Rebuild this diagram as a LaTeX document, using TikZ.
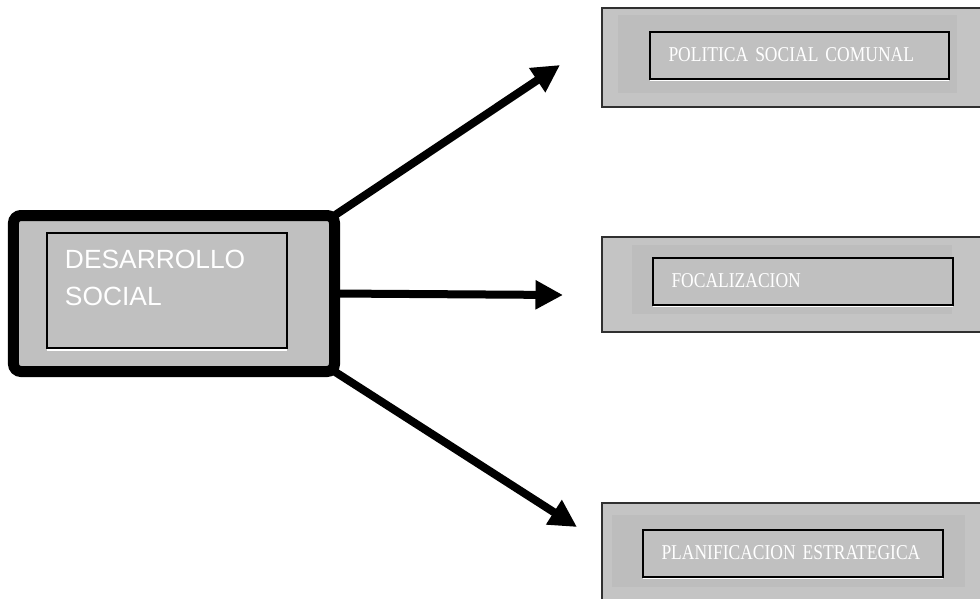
\documentclass[tikz,border=0pt]{standalone}
\usepackage{fontspec}
\usepackage{xcolor}
\usepackage{tikz}
\usetikzlibrary{positioning,arrows.meta,calc}
\newfontfamily\headfont{Liberation Sans}
\newfontfamily\itemfont[FakeStretch=0.83]{Liberation Serif}
\definecolor{panelg}{RGB}{196,196,196}
\definecolor{bandg}{RGB}{189,189,189}
\definecolor{faceg}{RGB}{192,192,192}
\definecolor{rimg}{RGB}{48,48,48}
\tikzset{
	every node/.style = { draw, outer sep=0pt },
	main/.style = { rectangle, rounded corners=1.5mm, line width=2.2mm, fill=faceg, minimum width=6.42cm, minimum height=3.12cm },
	mainin/.style = { rectangle, draw=black, line width=0.4mm, fill=faceg, minimum width=4.8cm, minimum height=2.3cm },
	maintxt/.style = { draw=none, inner sep=0pt, align=left, text=white, font=\headfont\fontsize{15}{21}\selectfont },
	panel/.style = { rectangle, draw=rimg, line width=0.3mm, fill=panelg, minimum width=7.96cm },
	band/.style = { rectangle, draw=none, fill=bandg },
	item/.style = { rectangle, draw=black, line width=0.4mm, fill=faceg, minimum height=0.94cm, inner xsep=0.37cm, align=left, text=white, font=\itemfont\fontsize{12}{14}\selectfont },
	shine/.style = { white, line width=0.25mm },
	arr/.style = { line width=1.6mm, -{Triangle[length=5.5mm,width=5.5mm]} },
}

\begin{document}
\begin{tikzpicture}[x=0.2mm,y=-0.2mm]
\useasboundingbox (0,0) rectangle (980,598);
\clip (0,0) rectangle (980,598);
\fill[white] (0,0) rectangle (980,598);

\node (dev)    [main]   at (174,293.5) {};
\node (devin)  [mainin] at (167,290.5) {};
\node (devtxt) [maintxt,anchor=base west] at ($(devin.north west)+(18,72)$) {DESARROLLO\\SOCIAL};

\node (pol)   [panel,minimum height=1.98cm] at (801,57.5) {};
\node (polb)  [band,minimum width=6.78cm,minimum height=1.56cm] at (787.5,54) {};
\node (polin) [item,minimum width=5.98cm,text width=5.24cm] at (799.5,55) {POLITICA SOCIAL COMUNAL};

\node (foc)   [panel,minimum height=1.9cm] at (801,284.5) {};
\node (focb)  [band,minimum width=6.4cm,minimum height=1.38cm] at (792,279.5) {};
\node (focin) [item,minimum width=6cm,text width=5.26cm] at (803,281) {FOCALIZACION};

\node (pla)   [panel,minimum height=2.34cm] at (801,561.5) {};
\node (plab)  [band,minimum width=7.06cm,minimum height=1.44cm] at (788.5,551) {};
\node (plain) [item,minimum width=6cm,text width=5.26cm] at (793,553) {PLANIFICACION ESTRATEGICA};

% light edge under the inner boxes
\foreach \n in {devin,polin,focin,plain}
	\draw[shine] ($(\n.south west)+(0,2)$) -- ($(\n.south east)+(0,2)$);

\coordinate (polt) at (560,65);
\coordinate (foct) at (563,295);
\coordinate (plat) at (577,527);
\draw[arr] (dev.north east) -- (polt);
\draw[arr] (dev.east)       -- (foct);
\draw[arr] (dev.south east) -- (plat);

\end{tikzpicture}
\end{document}
